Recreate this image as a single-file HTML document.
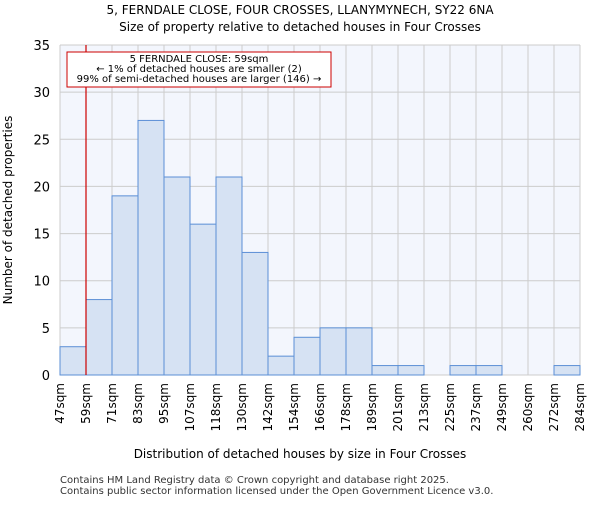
<!DOCTYPE html>
<html><head><meta charset="utf-8"><style>body{margin:0;background:#fff}svg{font-family:"DejaVu Sans","Liberation Sans",sans-serif}</style></head>
<body>
<svg id="c" width="600" height="500" xmlns="http://www.w3.org/2000/svg">
<text x="300" y="14" text-anchor="middle" font-size="12">5, FERNDALE CLOSE, FOUR CROSSES, LLANYMYNECH, SY22 6NA</text>
<text x="300" y="31" text-anchor="middle" font-size="12">Size of property relative to detached houses in Four Crosses</text>
<rect x="60" y="45" width="520" height="330" fill="#f3f6fd"/>
<g id="grid"></g><g id="bars"></g><g id="axes"></g>
<text x="300" y="458" text-anchor="middle" font-size="12">Distribution of detached houses by size in Four Crosses</text>
<text transform="translate(12,210) rotate(-90)" text-anchor="middle" font-size="12">Number of detached properties</text>
<text x="60" y="483" font-size="10" fill="#333">Contains HM Land Registry data © Crown copyright and database right 2025.</text>
<text x="60" y="494" font-size="10" fill="#333">Contains public sector information licensed under the Open Government Licence v3.0.</text>
</svg>
<script>
const categories=["47sqm","59sqm","71sqm","83sqm","95sqm","107sqm","118sqm","130sqm","142sqm","154sqm","166sqm","178sqm","189sqm","201sqm","213sqm","225sqm","237sqm","249sqm","260sqm","272sqm","284sqm"];
const counts=[3,8,19,27,21,16,21,13,2,4,5,5,1,1,0,1,1,0,0,1];
const yTicks=[0,5,10,15,20,25,30,35];
const markerIndex=1;
const NS="http://www.w3.org/2000/svg";
const x0=60,bw=26,yB=375,yT=45,yMax=35;
const xs=i=>x0+i*bw, ys=v=>yB-(v/yMax)*(yB-yT);
function mk(tag,at,parent){const e=document.createElementNS(NS,tag);for(const k in at)e.setAttribute(k,at[k]);document.getElementById(parent).appendChild(e);return e;}
yTicks.forEach(t=>{
 const l=mk('line',{x1:60,x2:580,y1:ys(t),y2:ys(t),stroke:'#cccccc'},'grid');
 
 
 const tx=mk('text',{x:50,y:ys(t)+5,'text-anchor':'end','font-size':13},'axes');tx.textContent=t;
 
 
});
categories.forEach((c,i)=>{
 const l=mk('line',{x1:xs(i),x2:xs(i),y1:yT,y2:yB,stroke:'#cccccc'},'grid');
 
 
 const X=xs(i)+4;
 const tx=mk('text',{transform:`translate(${X},383) rotate(-90)`,'text-anchor':'end','font-size':12},'axes');tx.textContent=c;
 
 
});
counts.forEach((v,i)=>{if(v<=0)return;
 const r=mk('rect',{x:xs(i),y:ys(v),width:bw,height:yB-ys(v),fill:'#d6e2f3',stroke:'#5b8fd6','stroke-width':1},'bars');
 
 
});
const m=mk('line',{x1:xs(markerIndex),x2:xs(markerIndex),y1:yT,y2:yB,stroke:'#cc0000','stroke-width':1.2},'axes');


const b=mk('rect',{x:67,y:52,width:264,height:35,fill:'#fff',stroke:'#cc0000'},'axes');


["5 FERNDALE CLOSE: 59sqm","← 1% of detached houses are smaller (2)","99% of semi-detached houses are larger (146) →"].forEach((s,k)=>{
 const t=mk('text',{x:199,y:62+k*10,'text-anchor':'middle','font-size':10},'axes');t.textContent=s;
 
 
});
</script>
</body></html>
